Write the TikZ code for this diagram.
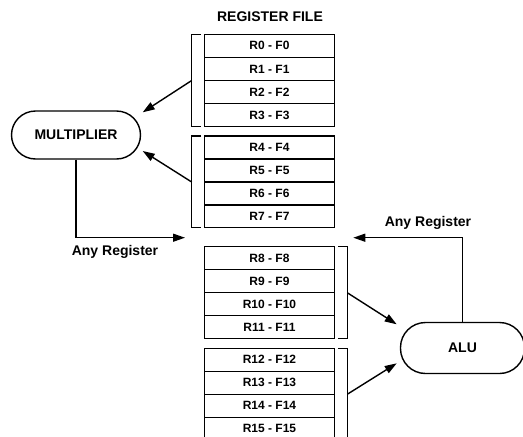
\documentclass[tikz,border=0pt]{standalone}
\usepackage{fontspec}
\setmainfont{Liberation Sans}
\usetikzlibrary{arrows.meta}
\begin{document}
\begin{tikzpicture}[x=1pt,y=-1pt,
  line width=1.4pt,
  cell/.style={draw, rectangle, minimum width=130pt, minimum height=23pt, inner sep=0pt,
     font=\fontsize{12}{14}\selectfont\bfseries},
  unit/.style={draw, rectangle, rounded corners=24pt, inner sep=0pt,
     font=\fontsize{14}{16}\selectfont\bfseries},
  lbl/.style={font=\fontsize{14}{16}\selectfont\bfseries, inner sep=0pt},
  arr/.style={-{Triangle[length=12pt,width=8pt]}, line width=1.4pt},
  brk/.style={line width=1.4pt}]
\useasboundingbox (0,0) rectangle (523,437);
\clip (0,0) rectangle (523,437);

\node[lbl] (title) at (270,17) {REGISTER FILE};

% block 1
\node[cell] (r0) at (269.5,45.8) {R0 - F0};
\node[cell] (r1) at (269.5,68.9) {R1 - F1};
\node[cell] (r2) at (269.5,92.0) {R2 - F2};
\node[cell] (r3) at (269.5,115.1) {R3 - F3};
% block 2
\node[cell] (r4) at (269.5,147.5) {R4 - F4};
\node[cell] (r5) at (269.5,170.4) {R5 - F5};
\node[cell] (r6) at (269.5,193.3) {R6 - F6};
\node[cell] (r7) at (269.5,216.2) {R7 - F7};
% block 3
\node[cell] (r8) at (269.5,258.2) {R8 - F8};
\node[cell] (r9) at (269.5,281.2) {R9 - F9};
\node[cell] (r10) at (269.5,304.2) {R10 - F10};
\node[cell] (r11) at (269.5,327.2) {R11 - F11};
% block 4
\node[cell] (r12) at (269.5,359.8) {R12 - F12};
\node[cell] (r13) at (269.5,382.8) {R13 - F13};
\node[cell] (r14) at (269.5,405.8) {R14 - F14};
\node[cell] (r15) at (269.5,428.8) {R15 - F15};

% brackets
\draw[brk] (201,34.3) -- (191.7,34.3) -- (191.7,126.7) -- (201,126.7);
\draw[brk] (201,136) -- (191.7,136) -- (191.7,227.7) -- (201,227.7);
\draw[brk] (338,246.7) -- (347.7,246.7) -- (347.7,338.7) -- (338,338.7);
\draw[brk] (338,348.3) -- (347.7,348.3) -- (347.7,445);
\coordinate (b1) at (191.7,80.5);
\coordinate (b2) at (191.7,182);
\coordinate (b3) at (347.7,293);
\coordinate (b4) at (347.7,394);

% units
\node[unit, minimum width=129pt, minimum height=48pt] (mult) at (76,135) {MULTIPLIER};
\node[unit, rounded corners=25pt, minimum width=124pt, minimum height=51pt] (alu) at (462.5,348) {ALU};

% arrow tips
\coordinate (t1) at (142.7,112.3);
\coordinate (t2) at (142.7,151);
\coordinate (t3) at (396.7,324.3);
\coordinate (t4) at (396.7,363.3);
\coordinate (mdown) at (185,237.7);
\coordinate (aup) at (353.3,237.7);

\draw[arr] (b1) -- (t1);
\draw[arr] (b2) -- (t2);
\draw[arr] (b3) -- (t3);
\draw[arr] (b4) -- (t4);
\draw[arr] (mult.south) |- (mdown);
\draw[arr] (alu.north) |- (aup);

\node[lbl] (any1) at (115,251.5) {Any Register};
\node[lbl] (any2) at (428,223) {Any Register};
\end{tikzpicture}
\end{document}
